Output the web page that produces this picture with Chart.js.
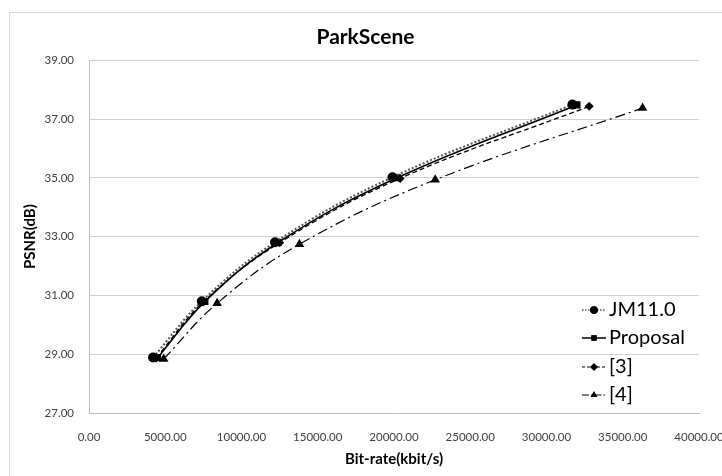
<!DOCTYPE html>
<html>
<head>
<meta charset="utf-8">
<script src="https://cdn.jsdelivr.net/npm/chart.js@4.4.1/dist/chart.umd.min.js"></script>
<style>
  html, body { margin: 0; padding: 0; background: #fff; }
  #wrap { position: relative; width: 722px; height: 476px; overflow: hidden; }
  #frame { position: absolute; left: 9px; top: 12px; width: 730px; height: 480px; border: 1.5px solid #d9d9d9; box-sizing: border-box; pointer-events: none; }
  canvas { position: absolute; left: 0; top: 0; }
</style>
</head>
<body>
<div id="wrap">
  <canvas id="c" width="722" height="476"></canvas>
  <div id="frame"></div>
</div>
<script>
// ---- data ----
const seriesNames = ['JM11.0', 'Proposal', '[3]', '[4]'];
const jmRate   = [4200, 7400, 12200, 19900, 31700];
const jmPsnr   = [28.89, 30.80, 32.81, 35.02, 37.49];
const propRate = [4500, 7600, 12400, 20200, 32000];
const propPsnr = [28.88, 30.79, 32.80, 35.00, 37.48];
const ref3Rate = [4400, 7500, 12500, 20400, 32800];
const ref3Psnr = [28.87, 30.78, 32.79, 34.98, 37.43];
const ref4Rate = [4900, 8400, 13800, 22700, 36300];
const ref4Psnr = [28.84, 30.73, 32.74, 34.93, 37.37];
const xTicks = [0, 5000, 10000, 15000, 20000, 25000, 30000, 35000, 40000];
const yTicks = [27, 29, 31, 33, 35, 37, 39];

const pts = (xs, ys) => xs.map((x, i) => ({x: x, y: ys[i]}));

const styles = [
  {pointStyle: 'circle',   radius: 5,   dash: [2, 2],           width: 2,   color: '#555'},
  {pointStyle: 'rect',     radius: 5,   dash: [],               width: 1.6, color: '#000'},
  {pointStyle: 'rectRot',  radius: 4.5, dash: [5, 3],           width: 1.3, color: '#000'},
  {pointStyle: 'triangle', radius: 5.5, dash: [10, 4, 2, 4],    width: 1.2, color: '#000'}
];
const dataSets = [pts(jmRate, jmPsnr), pts(propRate, propPsnr), pts(ref3Rate, ref3Psnr), pts(ref4Rate, ref4Psnr)];

const datasets = dataSets.map((d, i) => ({
  label: seriesNames[i],
  data: d,
  showLine: true,
  borderColor: styles[i].color,
  borderWidth: styles[i].width,
  borderDash: styles[i].dash,
  backgroundColor: '#000',
  pointBackgroundColor: '#000',
  pointBorderColor: '#000',
  pointBorderWidth: 0,
  pointStyle: styles[i].pointStyle,
  pointRadius: styles[i].radius,
  tension: 0.4,
  fill: false,
  yAxisID: 'y'
}));

const legendPlugin = {
  id: 'customLegend',
  afterDraw(chart) {
    const ctx = chart.ctx;
    const x0 = 582, x1 = 606, tx = 609;
    const ys = [310, 338, 367, 395];
    ctx.save();
    datasets.forEach((ds, i) => {
      const y = ys[i];
      ctx.strokeStyle = '#000';
      ctx.lineWidth = i === 1 ? 1.5 : 1;
      ctx.setLineDash(i === 0 ? [1.5, 1.5] : i === 2 ? [3, 2] : i === 3 ? [7, 2, 1.5, 2] : []);
      ctx.beginPath(); ctx.moveTo(x0, y); ctx.lineTo(x1, y); ctx.stroke();
      ctx.setLineDash([]);
      ctx.fillStyle = '#000';
      Chart.helpers.drawPoint(ctx, {pointStyle: ds.pointStyle, radius: 3.8, borderWidth: 0, rotation: 0}, (x0 + x1) / 2, y);
      ctx.fill();
      ctx.font = '20px Lato, "Open Sans", sans-serif';
      ctx.fillStyle = '#000';
      ctx.textBaseline = 'middle';
      ctx.textAlign = 'left';
      ctx.fillText(ds.label, tx, y);
    });
    ctx.restore();
  }
};

new Chart(document.getElementById('c'), {
  type: 'scatter',
  data: { datasets },
  options: {
    responsive: false,
    animation: false,
    devicePixelRatio: 1,
    layout: { padding: { left: 9, right: 0, top: 0, bottom: 0 } },
    plugins: {
      legend: { display: false },
      tooltip: { enabled: false },
      title: {
        display: true,
        text: 'ParkScene',
        color: '#000',
        font: { family: 'Lato, "Open Sans", sans-serif', size: 21, weight: 'bold', lineHeight: 1.2 },
        padding: { top: 25, bottom: 10 }
      }
    },
    scales: {
      x: {
        type: 'linear',
        min: 0, max: 40000,
        afterBuildTicks: s => { s.ticks = xTicks.map(v => ({value: v})); },
        afterFit: s => { s.height = 63; s.paddingLeft = 0; s.paddingRight = 0; },
        grid: { display: false, drawTicks: false },
        border: { display: true, color: '#bfbfbf', width: 1 },
        ticks: {
          color: '#404040',
          padding: 17,
          maxRotation: 0,
          autoSkip: false,
          font: { family: 'Lato, "Open Sans", sans-serif', size: 11.5 },
          callback: v => Number(v).toFixed(2)
        },
        title: {
          display: true,
          text: 'Bit-rate(kbit/s)',
          color: '#000',
          font: { family: 'Lato, "Open Sans", sans-serif', size: 15, weight: 'bold', lineHeight: 1.2 },
          padding: { top: 0, bottom: 8 }
        }
      },
      y: {
        type: 'linear',
        position: 'left',
        min: 27, max: 39,
        afterBuildTicks: s => { s.ticks = yTicks.map(v => ({value: v})); },
        afterFit: s => { s.width = 80; },
        grid: { color: '#d0d0d0', lineWidth: 1, drawTicks: false },
        border: { display: true, color: '#bfbfbf', width: 1 },
        ticks: {
          color: '#404040',
          padding: 15,
          font: { family: 'Lato, "Open Sans", sans-serif', size: 11.5 },
          callback: v => Number(v).toFixed(2)
        },
        title: {
          display: true,
          text: 'PSNR(dB)',
          color: '#000',
          font: { family: 'Lato, "Open Sans", sans-serif', size: 15, weight: 'bold', lineHeight: 1.2 },
          padding: { top: 12, bottom: 0 }
        }
      },
      yRightSpace: {
        type: 'linear',
        position: 'right',
        min: 27, max: 39,
        afterFit: s => { s.width = 23; },
        grid: { display: false, drawTicks: false },
        border: { display: false },
        ticks: { display: false }
      }
    }
  },
  plugins: [legendPlugin]
});
</script>
</body>
</html>
